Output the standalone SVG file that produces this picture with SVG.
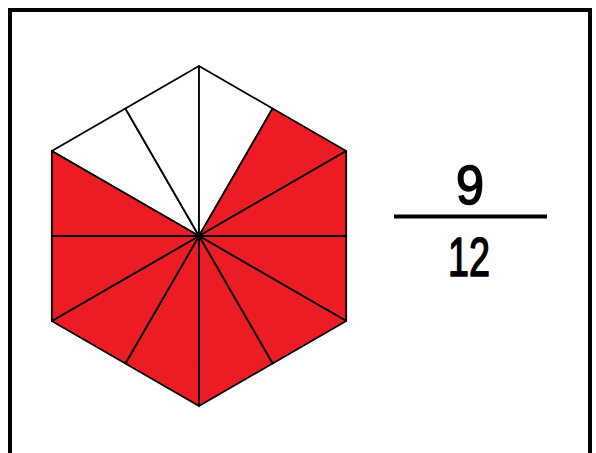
<svg xmlns="http://www.w3.org/2000/svg" width="596" height="453" viewBox="0 0 596 453">
  <style>
    .red { fill: #EC1C24; stroke: #000; stroke-width: 1.8; stroke-linejoin: round; }
    .white { fill: #FFFFFF; stroke: #000; stroke-width: 1.8; stroke-linejoin: round; }
    .num { font-family: "Liberation Sans", "DejaVu Sans", sans-serif; font-size: 55px; fill: #000; stroke: #000; stroke-width: 1.6; stroke-linejoin: round; text-anchor: middle; }
  </style>
  <rect x="0" y="0" width="596" height="453" fill="#FFFFFF"/>
  <rect id="frame" x="10" y="10" width="580" height="470" fill="#FFFFFF" stroke="#000" stroke-width="4"/>
  <g id="hexagon">
    <polygon class="white" points="199,236 51.8,151 125.4,108.5"/>
    <polygon class="white" points="199,236 125.4,108.5 199,66"/>
    <polygon class="white" points="199,236 199,66 272.6,108.5"/>
    <polygon class="red" points="199,236 272.6,108.5 346.2,151"/>
    <polygon class="red" points="199,236 346.2,151 346.2,236"/>
    <polygon class="red" points="199,236 346.2,236 346.2,321"/>
    <polygon class="red" points="199,236 346.2,321 272.6,363.5"/>
    <polygon class="red" points="199,236 272.6,363.5 199,406"/>
    <polygon class="red" points="199,236 199,406 125.4,363.5"/>
    <polygon class="red" points="199,236 125.4,363.5 51.8,321"/>
    <polygon class="red" points="199,236 51.8,321 51.8,236"/>
    <polygon class="red" points="199,236 51.8,236 51.8,151"/>
  </g>
  <g id="fraction">
    <text class="num" x="470" y="204" textLength="28" lengthAdjust="spacingAndGlyphs">9</text>
    <line x1="394" y1="216.5" x2="547" y2="216.5" stroke="#000" stroke-width="4"/>
    <text class="num" x="469" y="276" textLength="42" lengthAdjust="spacingAndGlyphs">12</text>
  </g>
</svg>
